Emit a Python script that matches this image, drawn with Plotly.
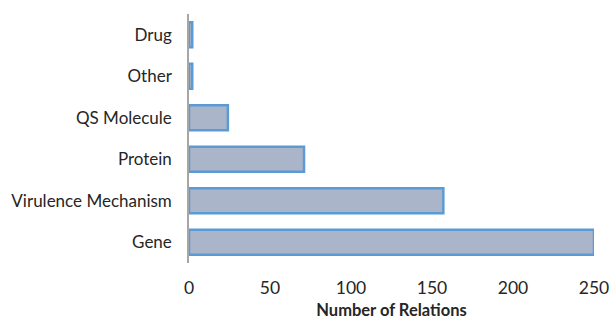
import plotly.graph_objects as go

# Relation counts per entity type
categories = ["Gene", "Virulence Mechanism", "Protein", "QS Molecule", "Other", "Drug"]
relations = [250, 157, 71, 24, 2, 2]
x_ticks = [0, 50, 100, 150, 200, 250]

fig = go.Figure(
    go.Bar(
        x=relations,
        y=categories,
        orientation="h",
        marker=dict(color="#AAB5C9", line=dict(color="#5B9BD5", width=2.5)),
        width=0.6,
    )
)

font_family = "Lato, 'Open Sans', sans-serif"
text_color = "#262626"

fig.update_layout(
    width=611,
    height=320,
    margin=dict(l=189, r=17, t=14, b=57),
    plot_bgcolor="white",
    paper_bgcolor="white",
    showlegend=False,
    font=dict(family=font_family, size=17, color=text_color),
)

fig.update_xaxes(
    range=[0, 250],
    tickvals=x_ticks,
    automargin=False,
    showgrid=False,
    zeroline=False,
    showline=False,
    ticks="",
    ticklabelstandoff=12,
    tickfont=dict(size=17.5, color=text_color),
    title=dict(text="<b>Number of Relations</b>", font=dict(size=16.5, color=text_color), standoff=14),
)

fig.update_yaxes(
    categoryorder="array",
    categoryarray=categories,
    automargin=False,
    showgrid=False,
    zeroline=False,
    showline=True,
    linecolor="#A6A6A6",
    linewidth=1.5,
    ticks="",
    ticklabelstandoff=12,
    tickfont=dict(size=17, color=text_color),
)

fig.write_html("out.html")
